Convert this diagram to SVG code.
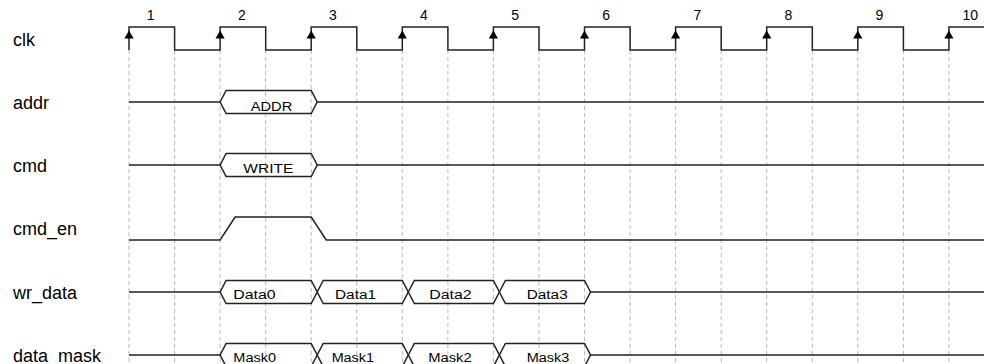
<svg xmlns="http://www.w3.org/2000/svg" width="984" height="364" viewBox="0 0 984 364">
  <style>
    .grid { stroke: #b8b8b8; stroke-width: 1; stroke-dasharray: 4 3; fill: none; }
    .wave { stroke: #222; stroke-width: 1.5; fill: none; stroke-linejoin: miter; }
    .bus { stroke: #222; stroke-width: 1.5; fill: none; stroke-linejoin: miter; }
    .label { font-family: "Liberation Sans", Arial, sans-serif; font-size: 18px; fill: #000; }
    .num { font-family: "Liberation Sans", Arial, sans-serif; font-size: 14px; fill: #000; text-anchor: middle; }
    .val { font-family: "Liberation Sans", Arial, sans-serif; font-size: 12.5px; fill: #000; text-anchor: middle; }
  </style>
  <defs>
    <!-- rising-edge marker on the clock -->
    <path id="edge" d="M0,-8 L-4.6,0 L4.6,0 Z" fill="#000"/>
  </defs>

  <rect width="984" height="364" fill="#fff"/>

  <!-- dashed timing grid at every clock edge -->
  <g id="grid" class="grid">
    <path d="M129,50V364 M174.6,50V364 M220.1,50V364 M265.7,50V364 M311.2,50V364 M356.8,50V364 M402.3,50V364 M447.9,50V364 M493.4,50V364 M539,50V364 M584.5,50V364 M630.1,50V364 M675.6,50V364 M721.2,50V364 M766.7,50V364 M812.3,50V364 M857.8,50V364 M903.4,50V364 M948.9,50V364"/>
  </g>

  <!-- cycle numbers -->
  <g id="cycles">
    <text class="num" x="150.7" y="20">1</text>
    <text class="num" x="241.8" y="20">2</text>
    <text class="num" x="332.9" y="20">3</text>
    <text class="num" x="424" y="20">4</text>
    <text class="num" x="515.1" y="20">5</text>
    <text class="num" x="606.2" y="20">6</text>
    <text class="num" x="697.3" y="20">7</text>
    <text class="num" x="788.4" y="20">8</text>
    <text class="num" x="879.5" y="20">9</text>
    <text class="num" x="970.3" y="20">10</text>
  </g>

  <!-- clk -->
  <g id="clk">
    <text class="label" x="13" y="45.5">clk</text>
    <path class="wave" d="M129,50V27H174.6V50H220.1V27H265.7V50H311.2V27H356.8V50H402.3V27H447.9V50H493.4V27H539V50H584.5V27H630.1V50H675.6V27H721.2V50H766.7V27H812.3V50H857.8V27H903.4V50H948.9V27H984"/>
    <use href="#edge" x="129" y="38.5"/>
    <use href="#edge" x="220.1" y="38.5"/>
    <use href="#edge" x="311.2" y="38.5"/>
    <use href="#edge" x="402.3" y="38.5"/>
    <use href="#edge" x="493.4" y="38.5"/>
    <use href="#edge" x="584.5" y="38.5"/>
    <use href="#edge" x="675.6" y="38.5"/>
    <use href="#edge" x="766.7" y="38.5"/>
    <use href="#edge" x="857.8" y="38.5"/>
    <use href="#edge" x="948.9" y="38.5"/>
  </g>

  <!-- addr -->
  <g id="addr">
    <text class="label" x="13" y="108.5">addr</text>
    <path class="wave" d="M129,102H220.1 M317.2,102H984"/>
    <path class="bus" d="M220.1,102L226.1,90.5H311.2L317.2,102L311.2,113.5H226.1Z"/>
    <text class="val" x="271.5" y="110.5" textLength="41.6" lengthAdjust="spacingAndGlyphs">ADDR</text>
  </g>

  <!-- cmd -->
  <g id="cmd">
    <text class="label" x="13" y="171.5">cmd</text>
    <path class="wave" d="M129,165H220.1 M317.2,165H984"/>
    <path class="bus" d="M220.1,165L226.1,153.5H311.2L317.2,165L311.2,176.5H226.1Z"/>
    <text class="val" x="268.3" y="173.3" textLength="50" lengthAdjust="spacingAndGlyphs">WRITE</text>
  </g>

  <!-- cmd_en -->
  <g id="cmd_en">
    <text class="label" x="13" y="235">cmd_en</text>
    <path class="wave" d="M129,240H220.1L235.1,217H311.2L326.2,240H984"/>
  </g>

  <!-- wr_data -->
  <g id="wr_data">
    <text class="label" x="13" y="298.5">wr_data</text>
    <path class="wave" d="M129,292H220.1 M590.5,292H984"/>
    <path class="bus" d="M220.1,292L226.1,280.5H311.2L317.2,292L311.2,303.5H226.1Z"/>
    <path class="bus" d="M317.2,292L323.2,280.5H402.3L408.3,292L402.3,303.5H323.2Z"/>
    <path class="bus" d="M408.3,292L414.3,280.5H493.4L499.4,292L493.4,303.5H414.3Z"/>
    <path class="bus" d="M499.4,292L505.4,280.5H584.5L590.5,292L584.5,303.5H505.4Z"/>
    <text class="val" x="254.5" y="298.5" textLength="42.4" lengthAdjust="spacingAndGlyphs">Data0</text>
    <text class="val" x="355.5" y="298.5" textLength="41" lengthAdjust="spacingAndGlyphs">Data1</text>
    <text class="val" x="450.5" y="298.5" textLength="42.4" lengthAdjust="spacingAndGlyphs">Data2</text>
    <text class="val" x="547.2" y="298.5" textLength="41" lengthAdjust="spacingAndGlyphs">Data3</text>
  </g>

  <!-- data_mask -->
  <g id="data_mask">
    <text class="label" x="13" y="361.5">data_mask</text>
    <path class="wave" d="M129,355H220.1 M590.5,355H984"/>
    <path class="bus" d="M220.1,355L226.1,343.5H311.2L317.2,355L311.2,366.5H226.1Z"/>
    <path class="bus" d="M317.2,355L323.2,343.5H402.3L408.3,355L402.3,366.5H323.2Z"/>
    <path class="bus" d="M408.3,355L414.3,343.5H493.4L499.4,355L493.4,366.5H414.3Z"/>
    <path class="bus" d="M499.4,355L505.4,343.5H584.5L590.5,355L584.5,366.5H505.4Z"/>
    <text class="val" x="254.7" y="362" textLength="42.7" lengthAdjust="spacingAndGlyphs">Mask0</text>
    <text class="val" x="352.8" y="362" textLength="42.3" lengthAdjust="spacingAndGlyphs">Mask1</text>
    <text class="val" x="450" y="362" textLength="43.4" lengthAdjust="spacingAndGlyphs">Mask2</text>
    <text class="val" x="548" y="362" textLength="42.6" lengthAdjust="spacingAndGlyphs">Mask3</text>
  </g>
</svg>
